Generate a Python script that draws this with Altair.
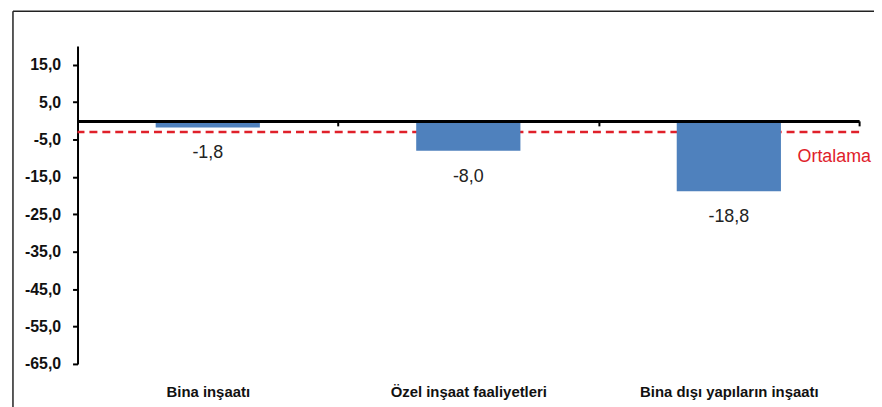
import altair as alt
import pandas as pd

categories = ["Bina inşaatı", "Özel inşaat faaliyetleri", "Bina dışı yapıların inşaatı"]
values = [-1.8, -8.0, -18.8]
average_value = -3.0
average_label = "Ortalama"
y_ticks = [15, 5, -5, -15, -25, -35, -45, -55, -65]
y_domain = [-65, 20]

W, H = 787, 320
BAR = "#4f81bd"
RED = "#e0202a"
zero_px = H * (y_domain[1] - 0) / (y_domain[1] - y_domain[0])
x_offset = -(H - zero_px)

df = pd.DataFrame({"cat": categories, "val": values})

fmt = "(datum.{f} < 0 ? '-' : '') + replace(format(abs(datum.{f}), '.1f'), '.', ',')"

x_enc = alt.X(
    "cat:N", sort=categories, title=None,
    scale=alt.Scale(paddingInner=0, paddingOuter=0),
    axis=alt.Axis(
        orient="bottom", offset=x_offset, zindex=1,
        domainColor="black", domainWidth=3,
        tickBand="extent", tickColor="black", tickWidth=2, tickSize=5,
        labelAngle=0, labelFont="Liberation Sans", labelFontWeight="bold",
        labelFontSize=15, labelColor="#111", labelPadding=261, labelBaseline="top",
        labelLimit=400, labelOverlap=False,
    ),
)
y_axis = alt.Axis(
    values=y_ticks, labelExpr=fmt.format(f="value"), grid=False,
    domainColor="black", domainWidth=2, tickColor="black", tickWidth=2, tickSize=5,
    labelFont="Liberation Sans", labelFontWeight="bold", labelFontSize=16,
    labelColor="#111", labelPadding=12, labelOverlap=False,
)
y_scale = alt.Scale(domain=y_domain, nice=False, zero=False)


def y_enc(field):
    return alt.Y(field, title=None, scale=y_scale, axis=y_axis)


base = alt.Chart(df)

bars = base.mark_bar(color=BAR, width=alt.RelativeBandSize(0.4)).encode(x=x_enc, y=y_enc("val:Q"))

labels = base.transform_calculate(lbl=fmt.format(f="val")).mark_text(
    baseline="middle", dy=26, fontSize=18, font="Liberation Sans", color="#222"
).encode(x=x_enc, y=y_enc("val:Q"), text="lbl:N")

avg_df = pd.DataFrame({"val": [average_value], "t": [average_label]})

avg_rule = alt.Chart(avg_df).mark_rule(
    color=RED, strokeDash=[8, 5], strokeWidth=2.5
).encode(y=y_enc("val:Q"))

avg_text = alt.Chart(avg_df).mark_text(
    align="right", baseline="middle", dx=12, dy=25, fontSize=18, font="Liberation Sans", color=RED
).encode(x=alt.value(W), y=y_enc("val:Q"), text="t:N")

frame_left = alt.Chart(pd.DataFrame({"a": [0]})).mark_rule(color="#222", strokeWidth=1.5).encode(
    x=alt.value(-65), y=alt.value(-35), y2=alt.value(H + 50)
)
frame_top = alt.Chart(pd.DataFrame({"a": [0]})).mark_rule(color="#222", strokeWidth=1.5).encode(
    y=alt.value(-35), x=alt.value(-65), x2=alt.value(W + 20)
)

chart = alt.layer(avg_rule, bars, labels, avg_text, frame_left, frame_top).properties(
    width=W, height=H, background="white",
    padding={"left": 70, "top": 37, "right": 15, "bottom": 42},
    autosize=alt.AutoSizeParams(type="none"),
).configure_view(strokeWidth=0, stroke="transparent")

chart.save("out.html", embed_options={"renderer": "svg", "actions": False})
